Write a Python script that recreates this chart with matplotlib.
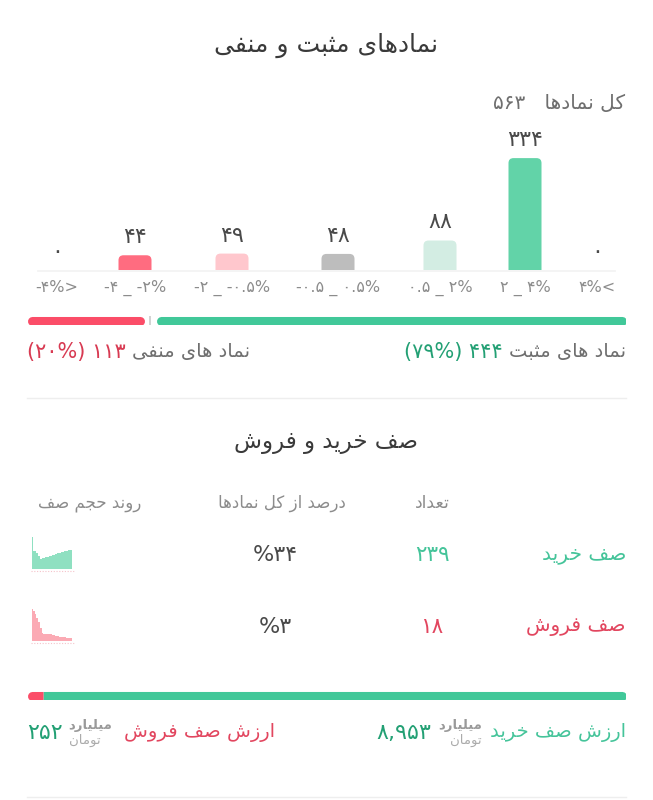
import matplotlib
matplotlib.use("Agg")
import matplotlib.pyplot as plt
from matplotlib.patches import PathPatch
from matplotlib.path import Path

# ---------------- data ----------------
dist_labels = ["-۴%>", "-۴ _ -۲%", "-۲ _ -۰.۵%", "-۰.۵ _ ۰.۵%", "۰.۵ _ ۲%", "۲ _ ۴%", "۴%<"]
dist_counts = [0, 44, 49, 48, 88, 334, 0]
dist_colors = ["#ff6c80", "#ff6c80", "#ffc7cd", "#bdbdbd", "#d3ede3", "#62d3a8", "#62d3a8"]
total_symbols = 563
positive_count = 444
positive_pct = 79
negative_count = 113
negative_pct = 20
queue_names = ["صف خرید", "صف فروش"]
queue_counts = [239, 18]
queue_pcts = [34, 3]
buy_trend = [100, 57, 57, 50, 40, 31, 33, 35, 36, 38, 39, 41, 43, 44, 46, 48, 50, 52, 54, 56, 57, 58, 59, 59]
sell_trend = [100, 92, 82, 70, 58, 40, 24, 23, 23, 22, 22, 21, 20, 19, 17, 15, 13, 12, 11, 11, 10, 10, 9, 9]
buy_value = 8953
sell_value = 252

# ---------------- text helpers (Arabic shaping + RTL) ----------------
FORMS = {
    'ا': ('\uFE8D', '\uFE8E', None, None),
    'ب': ('\uFE8F', '\uFE90', '\uFE91', '\uFE92'),
    'ت': ('\uFE95', '\uFE96', '\uFE97', '\uFE98'),
    'ث': ('\uFE99', '\uFE9A', '\uFE9B', '\uFE9C'),
    'ج': ('\uFE9D', '\uFE9E', '\uFE9F', '\uFEA0'),
    'ح': ('\uFEA1', '\uFEA2', '\uFEA3', '\uFEA4'),
    'خ': ('\uFEA5', '\uFEA6', '\uFEA7', '\uFEA8'),
    'د': ('\uFEA9', '\uFEAA', None, None),
    'ذ': ('\uFEAB', '\uFEAC', None, None),
    'ر': ('\uFEAD', '\uFEAE', None, None),
    'ز': ('\uFEAF', '\uFEB0', None, None),
    'س': ('\uFEB1', '\uFEB2', '\uFEB3', '\uFEB4'),
    'ش': ('\uFEB5', '\uFEB6', '\uFEB7', '\uFEB8'),
    'ص': ('\uFEB9', '\uFEBA', '\uFEBB', '\uFEBC'),
    'ع': ('\uFEC9', '\uFECA', '\uFECB', '\uFECC'),
    'ف': ('\uFED1', '\uFED2', '\uFED3', '\uFED4'),
    'ق': ('\uFED5', '\uFED6', '\uFED7', '\uFED8'),
    'ک': ('\uFB8E', '\uFB8F', '\uFB90', '\uFB91'),
    'ل': ('\uFEDD', '\uFEDE', '\uFEDF', '\uFEE0'),
    'م': ('\uFEE1', '\uFEE2', '\uFEE3', '\uFEE4'),
    'ن': ('\uFEE5', '\uFEE6', '\uFEE7', '\uFEE8'),
    'ه': ('\uFEE9', '\uFEEA', '\uFEEB', '\uFEEC'),
    'و': ('\uFEED', '\uFEEE', None, None),
    'ی': ('\uFBFC', '\uFBFD', '\uFBFE', '\uFBFF'),
}


def joins_next(c):
    return c in FORMS and FORMS[c][2] is not None


def shape(s):
    res = []
    i, n = 0, len(s)
    while i < n:
        c = s[i]
        if c not in FORMS:
            res.append(c)
            i += 1
            continue
        prev_j = i > 0 and joins_next(s[i - 1])
        if c == 'ل' and i + 1 < n and s[i + 1] == 'ا':
            res.append('\uFEFC' if prev_j else '\uFEFB')
            i += 2
            continue
        next_j = i + 1 < n and s[i + 1] in FORMS and joins_next(c)
        iso, fin, ini, med = FORMS[c]
        if prev_j and next_j:
            f = med
        elif prev_j:
            f = fin
        elif next_j:
            f = ini
        else:
            f = iso
        res.append(f)
        i += 1
    return ''.join(res)


def ar(s):
    return shape(s)[::-1]


FA = str.maketrans("0123456789", "۰۱۲۳۴۵۶۷۸۹")


def fa(n, sep=False):
    s = f"{n:,}" if sep else str(n)
    return s.translate(FA)


# ---------------- figure ----------------
W, H = 653, 800
plt.rcParams['font.family'] = ['DejaVu Sans']
fig = plt.figure(figsize=(W / 100, H / 100), dpi=100)
fig.patch.set_facecolor("white")
bg = fig.add_axes([0, 0, 1, 1])
bg.set_xlim(0, W)
bg.set_ylim(H, 0)
bg.axis("off")
renderer = fig.canvas.get_renderer()

GRAY = "#6f6f6f"
LGRAY = "#8c8c8c"
GREEN = "#45c49a"
DGREEN = "#23a074"
RED = "#e2465f"


def txt(x, y, s, **kw):
    kw.setdefault("va", "center")
    return bg.text(x, y, s, **kw)


def wpx(t):
    return t.get_window_extent(renderer).width


def place(items, x, y, direction):
    """items: list of (string, color, size, gap) placed from x going left (-1) or right (+1)."""
    for s, color, size, gap in items:
        if isinstance(s, tuple):  # stacked unit
            top, bot = s
            ha = "right" if direction < 0 else "left"
            t1 = txt(x, y - 7, top, color="#9a9a9a", fontsize=size, ha=ha, fontweight="bold")
            t2 = txt(x, y + 7, bot, color="#ababab", fontsize=size, ha=ha)
            w = max(wpx(t1), wpx(t2))
        else:
            t = txt(x, y, s, color=color, fontsize=size, ha="right" if direction < 0 else "left")
            w = wpx(t)
        x += direction * (w + gap)


def fx(x):
    return x / W


def fy(y):
    return 1 - y / H


# ---- section 1 title ----
txt(326, 45, ar("نمادهای مثبت و منفی"), fontsize=18, color="#3a3a3a", ha="center")
txt(625, 103, fa(total_symbols) + "   " + ar("کل نمادها"), fontsize=14.5, color=GRAY, ha="right")

# ---- distribution bar chart ----
col_x = [57, 135, 232, 338, 440, 525, 597]   # layout: column centres in px
base_y, top_y = 270, 130
px_per_unit = 0.335
ax = fig.add_axes([0, fy(base_y), 1, (base_y - top_y) / H])
ax.set_xlim(0, W)
ax.set_ylim(0, (base_y - top_y) / px_per_unit)
ax.axis("off")
bars = ax.bar(col_x, dist_counts, width=33, color=dist_colors)
yunits_per_px = ax.get_ylim()[1] / (base_y - top_y)
R = 5.0
for b in bars:
    h = b.get_height()
    b.set_visible(False)
    if h <= 0:
        continue
    x0, w = b.get_x(), b.get_width()
    x1 = x0 + w
    ry = min(R * yunits_per_px, h)
    verts = [(x0, 0), (x0, h - ry), (x0, h), (x0 + R, h), (x1 - R, h), (x1, h), (x1, h - ry),
             (x1, 0), (x0, 0)]
    codes = [Path.MOVETO, Path.LINETO, Path.CURVE3, Path.CURVE3, Path.LINETO, Path.CURVE3,
             Path.CURVE3, Path.LINETO, Path.CLOSEPOLY]
    ax.add_patch(PathPatch(Path(verts, codes), fc=b.get_facecolor(), ec="none"))
for b, v in zip(bars, dist_counts):
    ax.annotate(fa(v), (b.get_x() + b.get_width() / 2, v), xytext=(0, 13), textcoords="offset points",
                ha="center", va="center", fontsize=16, color="#4a4a4a")
bg.plot([38, 615], [270.5, 270.5], color="#f2f2f2", lw=1.2, zorder=0)
for xc, lab in zip(col_x, dist_labels):
    txt(xc, 288, lab, fontsize=11.5, color=LGRAY, ha="center")

# ---- progress bar 1 ----
neutral = total_symbols - positive_count - negative_count
pb = fig.add_axes([fx(27), fy(325), (626 - 27) / W, 9 / H])
pb.set_xlim(0, total_symbols)
pb.set_ylim(0, 1)
pb.axis("off")
upx = total_symbols / 599.0
cap = 4.5 * upx
gap = 2.5 * upx
pb.plot([cap, negative_count - gap - cap], [0.5, 0.5], color="#fb4d68", lw=6.5, solid_capstyle="round")
pb.plot([negative_count + neutral + gap + cap, total_symbols - cap], [0.5, 0.5],
        color="#41c899", lw=6.5, solid_capstyle="round")
mid = negative_count + neutral / 2
pb.plot([mid, mid], [0.0, 1.0], color="#cfcfcf", lw=1.3)

place([(ar("نماد های مثبت"), GRAY, 14, 6),
       (f"({fa(positive_pct)}%) {fa(positive_count)}", DGREEN, 15, 0)], 626, 352, -1)
place([(f"({fa(negative_pct)}%) {fa(negative_count)}", "#d83a52", 15, 6),
       (ar("نماد های منفی"), GRAY, 14, 0)], 27, 352, +1)

bg.plot([27, 626], [398, 398], color="#eeeeee", lw=1)

# ---- section 2 ----
txt(326, 443, ar("صف خرید و فروش"), fontsize=16.5, color="#3a3a3a", ha="center")
txt(90, 503, ar("روند حجم صف"), fontsize=12, color=LGRAY, ha="center")
txt(282, 503, ar("درصد از کل نمادها"), fontsize=12, color=LGRAY, ha="center")
txt(432, 503, ar("تعداد"), fontsize=12.5, color=LGRAY, ha="center")

row_y = [555, 627]
row_colors = [GREEN, RED]
spark_fill = ["#8fe0c1", "#fbaab4"]
trends = [buy_trend, sell_trend]
for ry, name, cnt, pct, col, fc, tr in zip(row_y, queue_names, queue_counts, queue_pcts,
                                           row_colors, spark_fill, trends):
    txt(626, ry, ar(name), fontsize=14.5, color=col, ha="right")
    txt(432, ry, fa(cnt), fontsize=15.5, color=col, ha="center")
    txt(275, ry, "%" + fa(pct), fontsize=16, color="#4a4a4a", ha="center")
    sp = fig.add_axes([fx(32), fy(ry + 14), 40 / W, 33 / H])
    sp.set_xlim(0, len(tr) - 1)
    sp.set_ylim(0, 102)
    sp.axis("off")
    sp.fill_between(range(len(tr)), tr, 0, step="mid", color=fc, lw=0)
    bg.plot([31, 74], [ry + 16, ry + 16], color="#f5c3ca", lw=0.8, ls=(0, (1, 1.5)))

# ---- progress bar 2 ----
tot2 = buy_value + sell_value
pb2 = fig.add_axes([fx(27), fy(700), (626 - 27) / W, 9 / H])
pb2.set_xlim(0, tot2)
pb2.set_ylim(0, 1)
pb2.axis("off")
u2 = tot2 / 599.0
pb2.plot([sell_value + 4.5 * u2, tot2 - 4.5 * u2], [0.5, 0.5], color="#41c899", lw=6.5, solid_capstyle="round")
pb2.plot([sell_value, tot2 - 4.5 * u2], [0.5, 0.5], color="#41c899", lw=6.5, solid_capstyle="butt")
pb2.plot([4.5 * u2, sell_value / 2], [0.5, 0.5], color="#fb4d68", lw=6.5, solid_capstyle="round")
pb2.plot([sell_value / 2, sell_value], [0.5, 0.5], color="#fb4d68", lw=6.5, solid_capstyle="butt")

unit = (ar("میلیارد"), ar("تومان"))
place([(ar("ارزش صف خرید"), GREEN, 14, 8),
       (unit, None, 9.5, 7),
       (fa(buy_value, sep=True), DGREEN, 16, 0)], 626, 733, -1)
place([(fa(sell_value), DGREEN, 16, 6),
       (unit, None, 9.5, 12),
       (ar("ارزش صف فروش"), RED, 14, 0)], 27, 733, +1)

bg.plot([27, 626], [797, 797], color="#eeeeee", lw=1)

fig.savefig("out.png", dpi=100, facecolor="white")
